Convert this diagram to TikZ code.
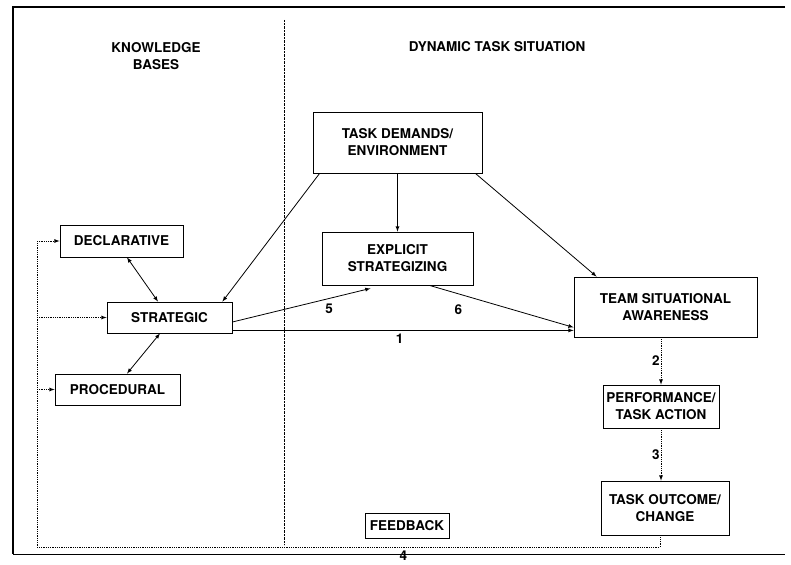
\documentclass[tikz,border=0pt]{standalone}
\usepackage{fontspec}
\setmainfont{TeX Gyre Heros}
\usepackage{tikz}
\usetikzlibrary{arrows}

\begin{document}
\begin{tikzpicture}[x=1pt,y=-1pt,>=latex,line width=0.8pt,font=\bfseries\fontsize{13.5}{17}\selectfont]
\tikzstyle{caja}=[draw,align=center,inner sep=2pt]
\tikzstyle{num}=[inner sep=1pt]
\tikzstyle{retro}=[densely dotted]
\useasboundingbox (0,0) rectangle (791,564);
%marco
\draw[line width=2pt] (785,7) -- (13,7) -- (13,554);
\draw[thin] (13,554) -- (785,554);
\draw[retro,thin] (284,20) -- (284,545);
%titulos
\node[align=center] (kb) at (156,56) {KNOWLEDGE\\BASES};
\node (dts) at (497,47) {DYNAMIC TASK SITUATION};
%cajas
\node[caja,minimum width=123pt,minimum height=32pt] (dec) at (121.5,241) {DECLARATIVE};
\node[caja,minimum width=125pt,minimum height=31pt] (str) at (169.5,317.5) {STRATEGIC};
\node[caja,minimum width=125pt,minimum height=31pt] (pro) at (117.5,389.5) {PROCEDURAL};
\node[caja,minimum width=169pt,minimum height=61pt] (tde) at (397.5,142.5) {TASK DEMANDS/\\ENVIRONMENT};
\node[caja,minimum width=151pt,minimum height=53pt] (exp) at (397.5,258.5) {EXPLICIT\\STRATEGIZING};
\node[caja,minimum width=183pt,minimum height=60pt] (tsa) at (665.5,307) {TEAM SITUATIONAL\\AWARENESS};
\node[caja,minimum width=116pt,minimum height=43pt] (per) at (661,406.5) {PERFORMANCE/\\TASK ACTION};
\node[caja,minimum width=128pt,minimum height=54pt] (out) at (665,508) {TASK OUTCOME/\\CHANGE};
\node[caja,minimum width=84pt,minimum height=25pt] (fee) at (407,525.5) {FEEDBACK};
%conexiones
\path[->] ([xshift=7pt]tde.south west) edge ([xshift=-10pt]str.north east)
          (tde.south) edge (exp.north)
          ([xshift=-7pt]tde.south east) edge ([xshift=23pt]tsa.north west)
          ([yshift=-4.5pt]str.east) edge node[num,below=4pt,pos=0.7] {5} ([xshift=-27pt,yshift=-3pt]exp.south)
          ([xshift=32pt]exp.south) edge node[num,below=10pt,pos=0.2] {6} ([yshift=10pt]tsa.south west)
          ([yshift=3pt]str.south east) edge node[num,below=2pt,pos=0.49] {1} ([yshift=7pt]tsa.south west);
\path[<->] ([xshift=5.5pt]dec.south) edge ([xshift=-11.5pt]str.north)
           ([xshift=-9.5pt]str.south) edge ([xshift=9.5pt]pro.north);
\draw[->,retro] (per.north |- tsa.south) -- node[num,left] {2} (per.north);
\draw[->,retro] (per.south) -- node[num,left] {3} (per.south |- out.north);
%retroalimentacion
\coordinate (esq) at (37,547);
\draw[retro] ([xshift=-5pt]out.south) |- node[num,below=3pt,pos=0.706] {4} (esq) -- (esq |- dec.west);
\draw[->,retro] (esq |- dec.west) -- (dec.west);
\draw[->,retro] (esq |- str.west) -- (str.west);
\draw[->,retro] (esq |- pro.west) -- (pro.west);
\end{tikzpicture}
\end{document}
